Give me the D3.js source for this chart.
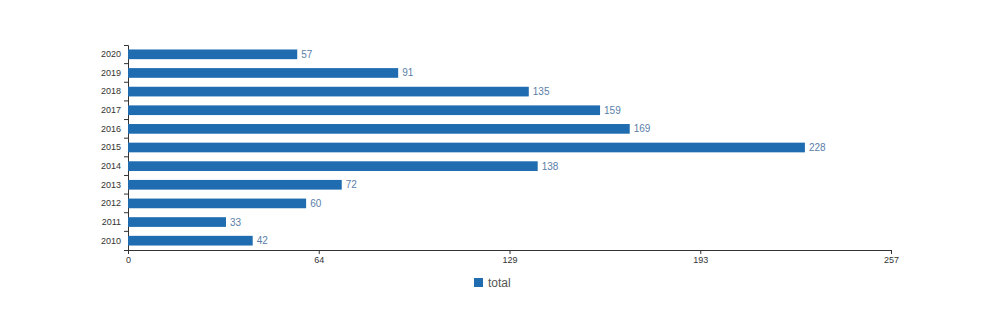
<!DOCTYPE html>
<html>
<head>
<meta charset="utf-8">
<script src="https://cdn.jsdelivr.net/npm/d3@7"></script>
<style>
    body { margin: 0; background: #fff; }
    svg { display: block; font-family: Arial, "Liberation Sans", sans-serif; }
    .axis path, .axis line { stroke: #333; }
    .axis text { fill: #333; font-size: 9px; }
    .value { fill: #5a7ea8; font-size: 10px; }
    .legend text { fill: #555; font-size: 12px; }
</style>
</head>
<body>
<svg id="chart" width="1000" height="334"></svg>
<script>
var years = ['2020', '2019', '2018', '2017', '2016', '2015', '2014', '2013', '2012', '2011', '2010'];
var totals = [57, 91, 135, 159, 169, 228, 138, 72, 60, 33, 42];
var xTicks = [0, 64.25, 128.5, 192.75, 257];
var seriesName = 'total';

var margin = { top: 45, left: 128, right: 109, bottom: 84 },
    width = 1000 - margin.left - margin.right,
    height = 334 - margin.top - margin.bottom,
    barColor = '#1f6db0';

var svg = d3.select('#chart');
var g = svg.append('g')
    .attr('transform', 'translate(' + margin.left + ',' + margin.top + ')');

var x = d3.scaleLinear().domain([0, d3.max(xTicks)]).range([0, width]);
var y = d3.scaleBand().domain(years).range([0, height]).paddingInner(0.48).paddingOuter(0.24);

// x axis
g.append('g')
    .attr('class', 'axis')
    .attr('transform', 'translate(0,' + height + ')')
    .call(d3.axisBottom(x).tickValues(xTicks).tickFormat(d3.format('.0f')).tickSize(4).tickSizeOuter(4));

// y axis, ticks drawn on band boundaries
var yAxis = g.append('g')
    .attr('class', 'axis')
    .call(d3.axisLeft(y).tickSize(0).tickSizeOuter(4).tickPadding(7));

var step = y.step(), off = y(years[0]) - y.paddingOuter() * step;
yAxis.selectAll('.bnd')
    .data(d3.range(1, years.length))
    .enter().append('line')
        .attr('class', 'bnd')
        .attr('x1', -4).attr('x2', 0)
        .attr('y1', function(i) { return off + i * (height / years.length); })
        .attr('y2', function(i) { return off + i * (height / years.length); });

// bars
var rows = years.map(function(yr, i) { return { year: yr, total: totals[i] }; });

g.selectAll('.bar')
    .data(rows)
    .enter().append('rect')
        .attr('class', 'bar')
        .attr('x', 0)
        .attr('y', function(d) { return y(d.year); })
        .attr('width', function(d) { return x(d.total); })
        .attr('height', y.bandwidth())
        .attr('fill', barColor);

g.selectAll('.value')
    .data(rows)
    .enter().append('text')
        .attr('class', 'value')
        .attr('x', function(d) { return x(d.total) + 4; })
        .attr('y', function(d) { return y(d.year) + y.bandwidth() / 2; })
        .attr('dy', '0.35em')
        .text(function(d) { return d.total; });

// legend
var legend = svg.append('g')
    .attr('class', 'legend')
    .attr('transform', 'translate(474,278)');
legend.append('rect')
    .attr('width', 9).attr('height', 9)
    .attr('fill', barColor);
legend.append('text')
    .attr('x', 14).attr('y', 5)
    .attr('dy', '0.35em')
    .text(seriesName);
</script>
</body>
</html>
